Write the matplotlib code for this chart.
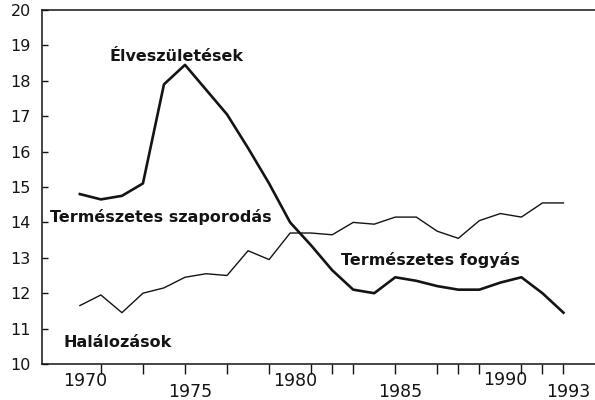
import matplotlib.pyplot as plt
import numpy as np

plt.rcParams['font.family'] = ['DejaVu Sans']

# évek és adatok (ezer lakosra)
years = list(range(1970, 1994))
births = [14.8, 14.65, 14.75, 15.1, 17.9, 18.45, 17.75, 17.05, 16.1, 15.1,
          14.0, 13.35, 12.65, 12.1, 12.0, 12.45, 12.35, 12.2, 12.1, 12.1,
          12.3, 12.45, 12.0, 11.45]
deaths = [11.65, 11.95, 11.45, 12.0, 12.15, 12.45, 12.55, 12.5, 13.2, 12.95,
          13.7, 13.7, 13.65, 14.0, 13.95, 14.15, 14.15, 13.75, 13.55, 14.05,
          14.25, 14.15, 14.55, 14.55]

year_labels = [1970, 1975, 1980, 1985, 1990, 1993]
label_drop = [0.048, 0.08, 0.048, 0.08, 0.045, 0.078]
tick_years = [1971, 1973, 1975, 1977, 1979, 1981, 1982, 1983, 1985, 1987,
              1988, 1989, 1991, 1992, 1993]

fig = plt.figure(figsize=(5.95, 4.0), dpi=100)
ax = fig.add_axes([0.0706, 0.09, 0.9294, 0.885])

ax.plot(years, births, color='#141414', lw=1.9, solid_joinstyle='round')
ax.plot(years, deaths, color='#141414', lw=1.0, solid_joinstyle='round')

ax.set_xlim(1968.2, 1994.5)
ax.set_ylim(10, 20)

ax.set_yticks(np.arange(10, 21, 1))
ax.tick_params(axis='y', direction='in', length=4, width=1, pad=8,
               labelsize=11.5, colors='#141414')
ax.set_xticks(tick_years)
ax.set_xticklabels([])
ax.tick_params(axis='x', direction='out', length=7, width=1, colors='#141414')

for yr, drop in zip(year_labels, label_drop):
    ax.text(yr + 0.25, -drop, str(yr), transform=ax.get_xaxis_transform(),
            ha='center', va='center', fontsize=12.5, color='#141414')

ax.spines['right'].set_visible(False)
for s in ['left', 'bottom', 'top']:
    ax.spines[s].set_color('#141414')
    ax.spines[s].set_linewidth(1.1)

txt = dict(fontsize=11.5, fontweight='bold', color='#141414', ha='center', va='center')
ax.text(1974.6, 18.7, 'Élveszületések', **txt)
ax.text(1973.85, 14.15, 'Természetes szaporodás', **txt)
ax.text(1986.65, 12.95, 'Természetes fogyás', **txt)
ax.text(1971.8, 10.6, 'Halálozások', **txt)

fig.savefig('out.png', dpi=100)
